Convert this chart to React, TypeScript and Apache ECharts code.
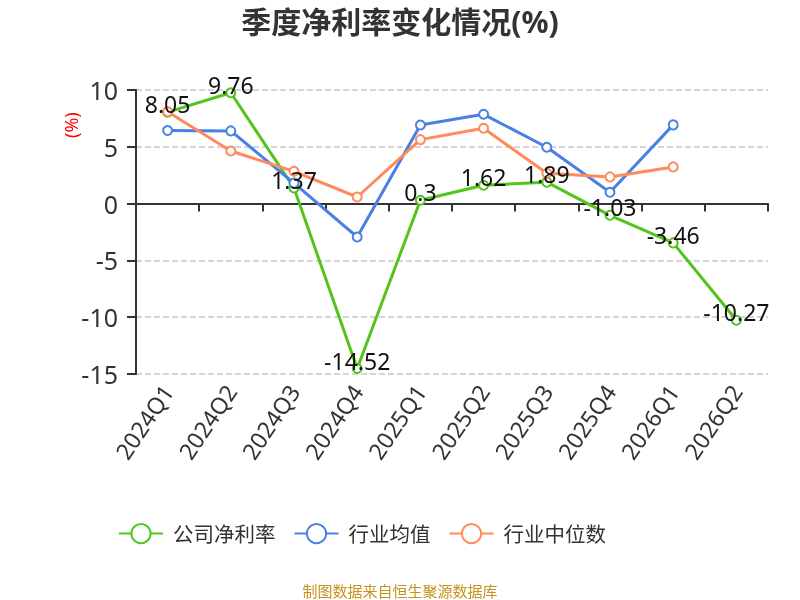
import React, { useEffect, useRef } from 'react';
import * as echarts from 'echarts';

const quarters = ['2024Q1', '2024Q2', '2024Q3', '2024Q4', '2025Q1', '2025Q2', '2025Q3', '2025Q4', '2026Q1', '2026Q2'];
const companyMargin = [8.05, 9.76, 1.37, -14.52, 0.3, 1.62, 1.89, -1.03, -3.46, -10.27];
const industryAvg = [6.43, 6.4, 1.8, -2.94, 6.92, 7.86, 4.96, 1.0, 6.93, null];
const industryMedian = [8.09, 4.63, 2.84, 0.58, 5.63, 6.63, 2.67, 2.35, 3.23, null];

const GREEN = '#52c41a';
const BLUE = '#4a80e3';
const ORANGE = '#ff8a5b';

const App: React.FC = () => {
  const chartRef = useRef<HTMLDivElement>(null);

  useEffect(() => {
    if (!chartRef.current) return;
    const chart = echarts.init(chartRef.current, undefined, { renderer: 'svg' });

    const lineSeries = (name: string, data: (number | null)[], color: string, withLabel: boolean): any => ({
      name,
      type: 'line',
      data,
      xAxisIndex: 0,
      symbol: 'emptyCircle',
      symbolSize: 9,
      lineStyle: { width: 3, color },
      itemStyle: { color, borderWidth: 2 },
      label: withLabel
        ? { show: true, position: 'top', offset: [0, 14], fontSize: 23, color: '#111' }
        : { show: false },
    });

    chart.setOption({
      animation: false,
      textStyle: { fontFamily: "'Noto Sans', 'Noto Sans CJK SC', sans-serif" },
      title: {
        text: '季度净利率变化情况(%)',
        left: 'center',
        top: 1,
        textStyle: { fontSize: 30, fontWeight: 'bold', color: '#333' },
      },
      grid: { left: 136, right: 32, top: 90, bottom: 226 },
      legend: {
        top: 518,
        left: 113,
        itemWidth: 44,
        itemHeight: 24,
        itemGap: 18,
        textStyle: { fontSize: 20.5, color: '#333', padding: [0, 0, 0, 5] },
        data: ['公司净利率', '行业均值', '行业中位数'],
      },
      xAxis: [
        {
          type: 'category',
          data: quarters,
          position: 'bottom',
          axisLine: { show: false, onZero: false },
          axisTick: { show: false },
          axisLabel: { rotate: 56, fontSize: 23, color: '#333', margin: 13 },
        },
        {
          type: 'category',
          data: quarters,
          position: 'bottom',
          axisLine: { show: true, onZero: true, lineStyle: { color: '#333', width: 2 } },
          axisTick: { show: true, length: 8, lineStyle: { color: '#333', width: 2 } },
          axisLabel: { show: false },
        },
      ],
      yAxis: {
        type: 'value',
        min: -15,
        max: 10,
        interval: 5,
        axisLine: { show: true, lineStyle: { color: '#333', width: 2 } },
        axisTick: { show: true, length: 9, lineStyle: { color: '#333', width: 2 } },
        axisLabel: { fontSize: 25, color: '#333', margin: 18 },
        splitLine: { lineStyle: { type: 'dashed', color: '#c8c8c8', width: 1.5 } },
      },
      graphic: [
        {
          type: 'text',
          x: 62,
          y: 138,
          rotation: Math.PI / 2,
          style: { text: '(%)', fill: '#ff0000', fontSize: 18, fontFamily: 'Noto Sans' },
        },
        {
          type: 'text',
          x: 400,
          y: 590,
          style: {
            text: '制图数据来自恒生聚源数据库',
            fill: '#c8921e',
            fontSize: 15,
            align: 'center',
            verticalAlign: 'middle',
            fontFamily: "'Noto Sans CJK SC', sans-serif",
          },
        },
      ],
      series: [
        lineSeries('公司净利率', companyMargin, GREEN, true),
        lineSeries('行业均值', industryAvg, BLUE, false),
        lineSeries('行业中位数', industryMedian, ORANGE, false),
      ],
    });

    return () => {
      chart.dispose();
    };
  }, []);

  return (
    <div
      ref={chartRef}
      style={{ position: 'fixed', left: 0, top: 0, width: '800px', height: '600px' }}
    />
  );
};

export default App;
